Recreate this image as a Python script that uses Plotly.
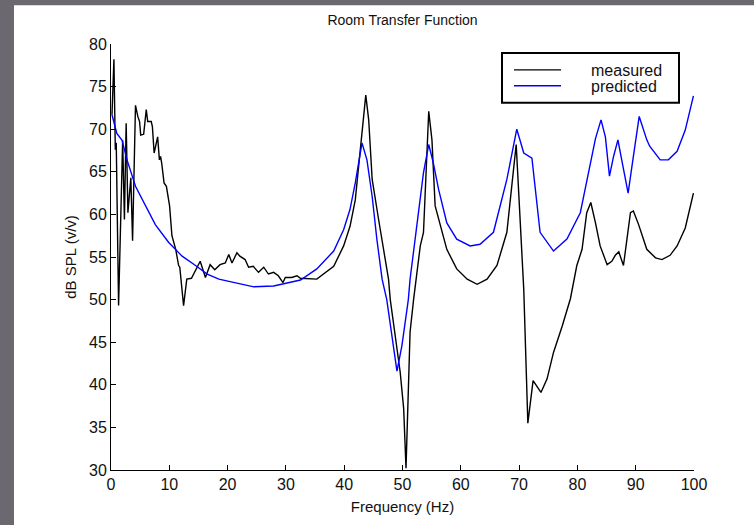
import plotly.graph_objects as go

# Measured response (frequency Hz, dB SPL)
meas_f = [0.17, 0.5, 0.74, 0.9, 1.3, 2.0, 2.3, 2.6, 2.9, 3.4, 3.7, 4.2, 4.6, 4.9, 5.1, 5.6, 6.05,
          6.3, 6.9, 7.1, 7.4, 8.0, 8.3, 8.5, 8.7, 9.1, 9.5, 10.05, 10.45, 11.1, 11.6, 11.8, 12.45,
          13.0, 13.8, 14.3, 15.3, 16.2, 17.0, 17.8, 18.7, 19.6, 20.2, 20.75, 21.6, 22.1, 23.0,
          23.6, 24.4, 25.3, 26.2, 27.0, 27.9, 28.7, 29.5, 29.9, 31.0, 31.9, 32.5, 35.3, 38.2,
          39.9, 41.0, 41.9, 42.8, 43.7, 44.2, 44.8, 45.9, 46.8, 47.6, 47.9, 49.6, 50.2, 50.6,
          51.3, 51.9, 53.05, 53.6, 54.5, 55.05, 55.6, 56.5, 57.6, 59.3, 61.1, 62.8, 64.5, 66.2,
          67.9, 68.8, 69.5, 70.8, 71.5, 72.4, 73.75, 74.8, 75.9, 77.4, 78.8, 79.9, 80.8, 81.6,
          82.3, 83.1, 83.9, 85.1, 85.9, 86.5, 87.1, 87.9, 89.1, 89.6, 90.5, 91.9, 93.4, 94.5,
          95.9, 97.1, 98.5, 99.9]
meas_db = [71.7, 78.2, 67.6, 68.4, 49.3, 68.7, 59.4, 70.7, 60.2, 64.3, 56.9, 72.8, 71.5, 70.9, 69.3,
           69.4, 72.3, 70.9, 70.9, 70.3, 67.2, 69.1, 66.4, 66.8, 66.0, 63.7, 63.3, 61.0, 57.5,
           55.9, 54.0, 53.8, 49.3, 52.4, 52.5, 53.2, 54.5, 52.6, 54.1, 53.5, 54.1, 54.3, 55.3,
           54.3, 55.5, 55.1, 54.7, 53.8, 53.9, 53.2, 53.8, 53.0, 53.2, 52.8, 52.0, 52.6, 52.6,
           52.8, 52.5, 52.4, 53.9, 56.3, 58.6, 61.7, 68.0, 74.0, 71.1, 64.1, 59.4, 55.5, 52.4,
           50.0, 41.5, 37.2, 30.2, 46.2, 50.0, 56.3, 57.9, 72.1, 68.75, 61.0, 58.6, 55.9, 53.6,
           52.4, 51.8, 52.4, 54.0, 57.9, 63.7, 68.2, 51.2, 35.5, 40.5, 39.1, 40.7, 43.8, 46.9,
           50.1, 54.0, 55.9, 60.2, 61.4, 59.0, 56.3, 54.1, 54.5, 55.2, 55.6, 54.0, 60.2, 60.4,
           58.8, 55.9, 54.9, 54.7, 55.2, 56.3, 58.4, 62.5]

# Predicted response
pred_f = [0.17, 1.0, 1.9, 2.75, 4.2, 5.9, 7.6, 9.9, 12.2, 14.5, 16.5, 18.5, 21.0, 24.5, 27.9,
          32.5, 35.3, 38.2, 39.9, 41.0, 41.9, 43.05, 43.9, 44.8, 45.6, 46.5, 47.3, 49.05, 49.9,
          51.0, 51.3, 52.8, 53.6, 54.5, 55.3, 56.2, 57.6, 59.3, 61.6, 63.3, 65.6, 67.9, 69.6,
          70.8, 72.2, 73.6, 75.9, 78.2, 80.5, 83.1, 84.05, 84.8, 85.5, 86.2, 86.95, 87.6, 88.7,
          89.6, 90.6, 91.9, 92.4, 94.2, 95.6, 97.1, 98.5, 99.9]
pred_db = [71.7, 69.5, 68.7, 66.4, 63.3, 61.0, 58.8, 56.7, 55.1, 54.0, 53.0, 52.4, 52.0, 51.5, 51.6,
           52.3, 53.6, 55.7, 58.2, 60.6, 63.7, 68.4, 66.4, 62.1, 57.1, 52.4, 50.0, 41.6, 44.6,
           50.0, 52.4, 61.0, 64.9, 68.2, 66.0, 62.9, 59.0, 57.1, 56.3, 56.5, 57.9, 64.1, 70.0,
           67.2, 66.6, 57.9, 55.7, 57.1, 60.2, 68.9, 71.1, 69.1, 64.5, 66.8, 68.75, 66.4, 62.5,
           66.8, 71.5, 68.75, 68.0, 66.4, 66.4, 67.4, 69.9, 73.9]

series_names = ["measured", "predicted"]
series_colors = ["black", "#0000ff"]

x_ticks = [0, 10, 20, 30, 40, 50, 60, 70, 80, 90, 100]
y_ticks = [30, 35, 40, 45, 50, 55, 60, 65, 70, 75, 80]

FONT = "Liberation Sans, Arial, sans-serif"
W, H = 754, 525
L, R, T, B = 111, 694, 44, 472  # plot area in pixels
PW, PH = R - L, B - T


def px(xp):
    return (xp - L) / PW


def py(yp):
    return (B - yp) / PH


fig = go.Figure()
for fx, fy, nm, col in [(meas_f, meas_db, series_names[0], series_colors[0]),
                        (pred_f, pred_db, series_names[1], series_colors[1])]:
    fig.add_trace(go.Scatter(x=fx, y=fy, mode="lines", name=nm,
                             line=dict(color=col, width=1.4), showlegend=False))

shapes = [
    # white figure panel
    dict(type="rect", xref="paper", yref="paper", layer="below",
         x0=px(14), x1=px(770), y0=py(540), y1=py(5),
         fillcolor="white", line=dict(width=0)),
    # legend box
    dict(type="rect", xref="paper", yref="paper", layer="above",
         x0=px(502), x1=px(679), y0=py(103), y1=py(53),
         fillcolor="white", line=dict(color="black", width=2)),
]
annotations = []
for i, (nm, col) in enumerate(zip(series_names, series_colors)):
    yy = 70 + 16 * i
    shapes.append(dict(type="line", xref="paper", yref="paper",
                       x0=px(514), x1=px(561), y0=py(yy), y1=py(yy),
                       line=dict(color=col, width=1.4)))
    annotations.append(dict(text=nm, xref="paper", yref="paper", x=px(589), y=py(yy + 1),
                            xanchor="left", yanchor="middle", showarrow=False,
                            font=dict(size=16, color="#111111")))

fig.update_layout(
    width=W, height=H,
    margin=dict(l=L, r=W - R, t=T, b=H - B),
    paper_bgcolor="#6b696f",
    plot_bgcolor="white",
    font=dict(family=FONT, color="#111111", size=16),
    title=dict(text="Room Transfer Function", x=(L + R) / 2 / W, xanchor="center",
               y=1 - 20 / H, yanchor="middle", font=dict(size=14, color="#111111")),
    showlegend=False,
    shapes=shapes,
    annotations=annotations,
)
fig.update_xaxes(range=[0, 100], tickvals=x_ticks, showgrid=False, zeroline=False,
                 showline=True, linecolor="black", linewidth=1, ticks="inside",
                 ticklen=5, tickcolor="black",
                 title=dict(text="Frequency (Hz)", font=dict(size=15), standoff=9))
fig.update_yaxes(range=[30, 80], tickvals=y_ticks, showgrid=False, zeroline=False,
                 showline=True, linecolor="black", linewidth=1, ticks="inside",
                 ticklen=5, tickcolor="black",
                 title=dict(text="dB SPL (v/v)", font=dict(size=15), standoff=8))

fig.write_html("out.html")
